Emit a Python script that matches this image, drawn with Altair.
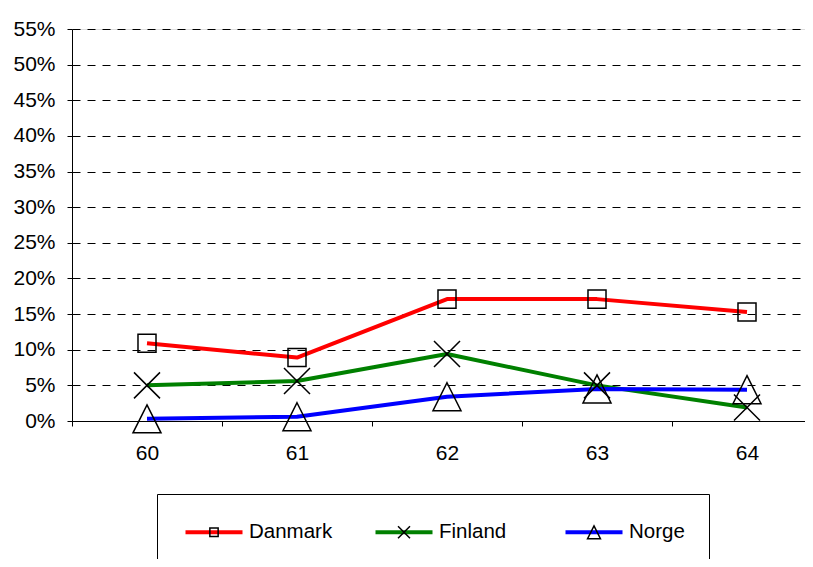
import altair as alt
import pandas as pd

years = ["60", "61", "62", "63", "64"]
countries = ["Danmark", "Finland", "Norge"]
danmark = [0.109, 0.089, 0.171, 0.171, 0.153]
finland = [0.050, 0.056, 0.094, 0.050, 0.019]
norge = [0.003, 0.006, 0.034, 0.045, 0.044]
colors = ["#FF0000", "#008000", "#0000FF"]
y_ticks = [0.0, 0.05, 0.10, 0.15, 0.20, 0.25, 0.30, 0.35, 0.40, 0.45, 0.50, 0.55]

# marker paths (square, cross, triangle)
marker_paths = [
    "M-0.377,-0.377H0.377V0.377H-0.377Z",
    "M-0.544,-0.544L0.544,0.544M-0.544,0.544L0.544,-0.544",
    "M0,-0.586L0.586,0.586H-0.586Z",
]

rows = []
for c, vals in zip(countries, [danmark, finland, norge]):
    for yr, v in zip(years, vals):
        rows.append({"year": yr, "country": c, "marker": c, "value": v})
df = pd.DataFrame(rows)

FONT = "Liberation Sans"

x_enc = alt.X(
    "year:O",
    sort=years,
    bandPosition=0.5,
    scale=alt.Scale(type="band", domain=years, range=[0, 750], paddingInner=0, paddingOuter=0),
    axis=alt.Axis(
        title=None, grid=False, tickBand="extent", labelAngle=0,
        tickSize=5, tickColor="black", domainColor="black",
        labelPadding=16, labelFontSize=21, labelColor="black", labelFont=FONT,
    ),
)
y_enc = alt.Y(
    "value:Q",
    scale=alt.Scale(domain=[0, 0.55], nice=False),
    axis=alt.Axis(
        title=None, values=y_ticks, format=".0%",
        tickSize=5, tickColor="black", domainColor="black",
        labelPadding=12, labelFontSize=21, labelColor="black", labelFont=FONT,
        grid=True, gridColor="black", gridDash=[8, 7], gridWidth=1,
    ),
)

common_legend = dict(
    title=None, orient="none", legendX=85, legendY=465, direction="horizontal",
    labelFontSize=20.5, labelFont=FONT, labelColor="black",
    symbolOffset=19, padding=26, gridAlign="all",
)

# coloured line symbols + labels
lines = alt.Chart(df).mark_line(strokeWidth=4, strokeJoin="round").encode(
    x=x_enc,
    y=y_enc,
    color=alt.Color(
        "country:N",
        scale=alt.Scale(domain=countries, range=colors),
        legend=alt.Legend(
            symbolType="M-2.85,0H2.85", symbolSize=400, symbolStrokeWidth=4,
            labelOffset=23, columnPadding=34, zindex=0,
            **common_legend,
        ),
    ),
)

# black markers + frame, drawn over the line symbols
points = alt.Chart(df).mark_point(
    filled=False, stroke="black", strokeWidth=1.5, size=2285, opacity=1
).encode(
    x=x_enc,
    y=y_enc,
    shape=alt.Shape(
        "marker:N",
        sort=countries,
        scale=alt.Scale(range=marker_paths),
        legend=alt.Legend(
            symbolSize=484, symbolStrokeWidth=1.5, symbolStrokeColor="black",
            symbolFillColor="white", labelExpr="''", labelOffset=77, columnPadding=70,
            strokeColor="black", zindex=1,
            **common_legend,
        ),
    ),
)

chart = alt.layer(lines, points).properties(
    width=733,
    height=392,
    padding={"left": 64, "top": 21, "right": 0, "bottom": 138},
    autosize=alt.AutoSizeParams(type="none"),
    background="white",
).configure_view(strokeWidth=0, stroke="transparent").configure(font=FONT)

chart.save("out.html", embed_options={"renderer": "svg", "actions": False})
